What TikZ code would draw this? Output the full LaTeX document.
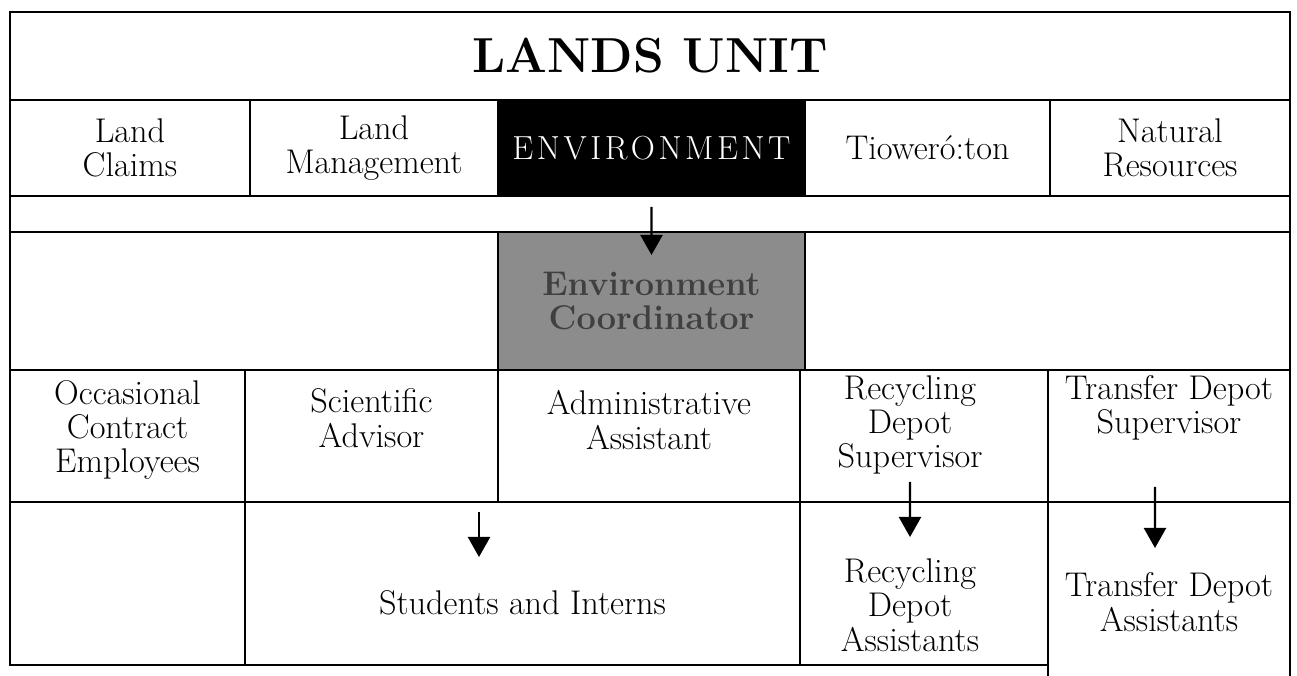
\documentclass[tikz,border=0pt]{standalone}
\usetikzlibrary{positioning, arrows.meta}

\begin{document}
\begin{tikzpicture} [
      font=\fontsize{19.5}{19.5}\selectfont,
      >={Triangle[width=4.4mm, length=4mm]},
      cell/.style={rectangle, draw=black, line width=1pt, inner sep=0pt, outer sep=0pt, anchor=north west, align=center},
      dept/.style={cell, minimum height=1.92cm},
      txt/.style={align=center, inner sep=1pt},
      link/.style={->, line width=1.3pt}
  ]
  \fill[white] (0,0) rectangle (25.94,-13.52);
  \useasboundingbox (0,0) rectangle (25.94,-13.52);

  % title and departments
  \node[cell, minimum width=25.6cm, minimum height=1.76cm, font=\fontsize{28}{30}\selectfont\bfseries] (unit) at (0.2,-0.24) {LANDS UNIT};
  \node[dept, minimum width=4.8cm] (claims) at (unit.south west) {Land\\Claims};
  \node[dept, minimum width=4.96cm] (mgmt) at (claims.north east) {Land\\Management};
  \node[dept, minimum width=6.14cm, fill=black, text=white, font=\fontsize{19}{20}\selectfont] (env) at (mgmt.north east)
    {E\kern2pt N\kern2pt V\kern2pt I\kern2pt R\kern2pt O\kern2pt N\kern2pt M\kern2pt E\kern2pt N\kern2pt T};
  \node[dept, minimum width=4.9cm] (tiow) at (env.north east) {Tioweró:ton};
  \node[dept, minimum width=4.8cm] (natres) at (tiow.north east) {Natural\\Resources};
  \node[cell, minimum width=25.6cm, minimum height=0.72cm] (strip) at (claims.south west) {};

  % coordinator row
  \node[cell, minimum width=9.76cm, minimum height=2.76cm] (blankl) at (strip.south west) {};
  \node[cell, minimum width=6.14cm, minimum height=2.76cm, fill=black!45, text=black!75, font=\fontsize{19.5}{19.5}\selectfont\bfseries] (coord) at (blankl.north east) {Environment\\Coordinator};
  \node[cell, minimum width=9.7cm, minimum height=2.76cm] (blankr) at (coord.north east) {};

  % staff row
  \node[cell, minimum width=4.7cm, minimum height=2.64cm] (occ) at (blankl.south west) {};
  \node[cell, minimum width=5.06cm, minimum height=2.64cm] (sci) at (occ.north east) {};
  \node[cell, minimum width=6.04cm, minimum height=2.64cm] (adm) at (sci.north east) {};
  \node[cell, minimum width=4.96cm, minimum height=2.64cm] (rsup) at (adm.north east) {};
  \node[cell, minimum width=4.84cm, minimum height=2.64cm] (tsup) at (rsup.north east) {};

  % assistants row
  \node[cell, minimum width=4.7cm, minimum height=3.26cm] (blankb) at (occ.south west) {};
  \node[cell, minimum width=11.1cm, minimum height=3.26cm] (stud) at (blankb.north east) {};
  \node[cell, minimum width=4.96cm, minimum height=3.26cm] (rasst) at (stud.north east) {};
  \node[cell, minimum width=4.84cm, minimum height=3.7cm] (tasst) at (rasst.north east) {};

  \node[txt] (occ-t) at ([yshift=1.2mm]occ.center) {Occasional\\Contract\\Employees};
  \node[txt] (sci-t) at ([yshift=3.6mm]sci.center) {Scientific\\Advisor};
  \node[txt] (adm-t) at ([yshift=3.2mm]adm.center) {Administrative\\Assistant};
  \node[txt] (rsup-t) at ([xshift=-2.8mm, yshift=2.2mm]rsup.center) {Recycling\\Depot\\Supervisor};
  \node[txt] (tsup-t) at ([yshift=5.6mm]tsup.center) {Transfer Depot\\Supervisor};
  \node[txt] (stud-t) at ([yshift=-3.9mm]stud.center) {Students and Interns};
  \node[txt] (rasst-t) at ([xshift=-2.8mm, yshift=-4.3mm]rasst.center) {Recycling\\Depot\\Assistants};
  \node[txt] (tasst-t) at ([yshift=-20mm]tasst.north) {Transfer Depot\\Assistants};

  \draw[link] ([yshift=-2.2mm]env.south) -- ([yshift=-4.6mm]coord.north);
  \draw[link] ([xshift=-8.7mm, yshift=-2mm]stud.north) -- ([xshift=-8.7mm, yshift=-11mm]stud.north);
  \draw[link] ([xshift=-2.8mm, yshift=4mm]rsup.south) -- ([xshift=-2.8mm, yshift=-7mm]rasst.north);
  \draw[link] ([xshift=-2.8mm, yshift=3mm]tsup.south) -- ([xshift=-2.8mm, yshift=-9.2mm]tasst.north);
\end{tikzpicture}
\end{document}
